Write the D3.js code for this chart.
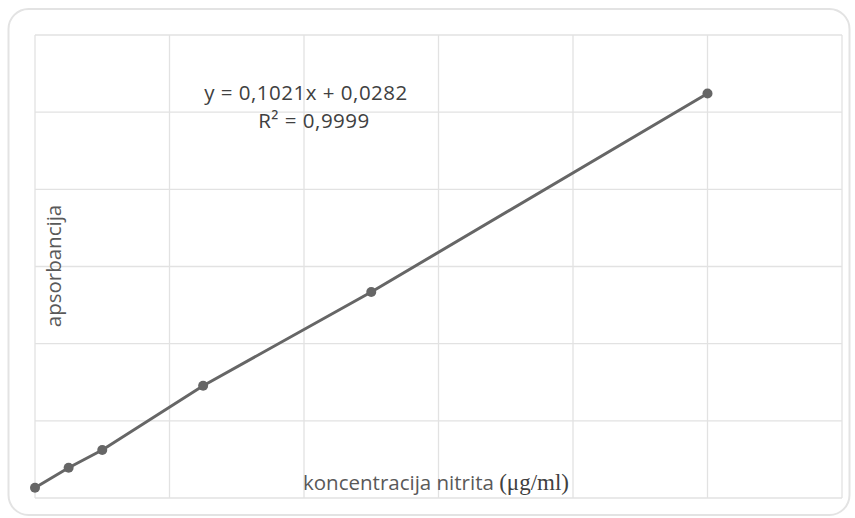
<!DOCTYPE html>
<html><head><meta charset="utf-8">
<script src="https://cdn.jsdelivr.net/npm/d3@7"></script>
<style>body{margin:0;background:#fff}svg{display:block}</style>
</head><body>
<script>
const concentrations = [0, 1, 2, 5, 10, 20];
const absorbance = [0.053, 0.157, 0.249, 0.582, 1.068, 2.097];
const xTicks = [0, 4, 8, 12, 16, 20, 24];
const yTicks = [0, 0.4, 0.8, 1.2, 1.6, 2.0, 2.4];
const equationLines = ["y = 0,1021x + 0,0282", "R² = 0,9999"];
const xTitle = "koncentracija nitrita ";
const xTitleUnit = "(μg/ml)";
const yTitle = "apsorbancija";

const W = 855, H = 518;
const svg = d3.select("body").append("svg").attr("width", W).attr("height", H);
svg.append("rect").attr("x", 8.5).attr("y", 9).attr("width", 841).attr("height", 506)
  .attr("rx", 20).attr("fill", "#fff").attr("stroke", "#e3e3e3").attr("stroke-width", 2);

const x = d3.scaleLinear().domain([0, 24]).range([35, 842]);
const y = d3.scaleLinear().domain([0, 2.4]).range([498, 35]);

const g = svg.append("g");
g.selectAll(".vg").data(xTicks).join("line")
  .attr("x1", d => x(d)).attr("x2", d => x(d)).attr("y1", y(0)).attr("y2", y(2.4))
  .attr("stroke", "#e2e2e2").attr("stroke-width", 1.3);
g.selectAll(".hg").data(yTicks).join("line")
  .attr("y1", d => y(d)).attr("y2", d => y(d)).attr("x1", x(0)).attr("x2", x(24))
  .attr("stroke", "#e2e2e2").attr("stroke-width", 1.3);

const data = concentrations.map((c, i) => [c, absorbance[i]]);
g.append("path").datum(data)
  .attr("d", d3.line().x(d => x(d[0])).y(d => y(d[1])))
  .attr("fill", "none").attr("stroke", "#666").attr("stroke-width", 3);
g.selectAll("circle").data(data).join("circle")
  .attr("cx", d => x(d[0])).attr("cy", d => y(d[1])).attr("r", 5).attr("fill", "#666");

const font = "'Open Sans', 'Liberation Sans', sans-serif";
svg.append("text").attr("x", 306).attr("y", 100).attr("text-anchor", "middle")
  .attr("font-family", font).attr("font-size", 20.5).attr("letter-spacing", 0.5)
  .attr("fill", "#404040").text(equationLines[0]);
svg.append("text").attr("x", 314).attr("y", 128).attr("text-anchor", "middle")
  .attr("font-family", font).attr("font-size", 20.5).attr("letter-spacing", 0.5)
  .attr("fill", "#404040").text(equationLines[1]);

const xt = svg.append("text").attr("x", 303).attr("y", 490)
  .attr("font-family", font).attr("font-size", 20.5).attr("fill", "#595959");
xt.append("tspan").text(xTitle);
xt.append("tspan").attr("font-family", "'Liberation Serif', 'Times New Roman', serif")
  .attr("font-size", 23).attr("fill", "#404040").text(xTitleUnit);

svg.append("text").attr("transform", "translate(61,266) rotate(-90)").attr("text-anchor", "middle")
  .attr("font-family", font).attr("font-size", 20.5).attr("fill", "#595959").text(yTitle);
</script>
</body></html>
